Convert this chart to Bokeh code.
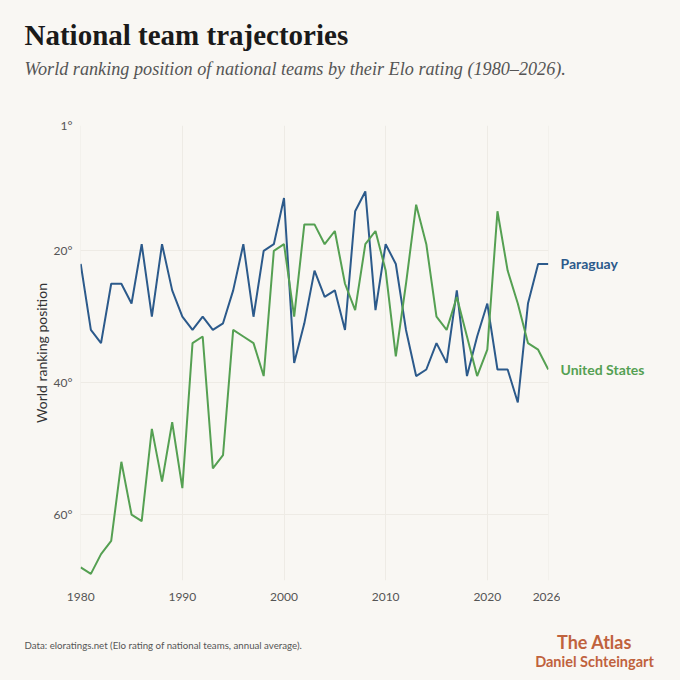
from bokeh.plotting import figure
from bokeh.models import Range1d, FixedTicker
from bokeh.layouts import column, row
from bokeh.core.properties import value
from bokeh.embed import file_html
from bokeh.resources import INLINE

years = list(range(1980, 2027))
paraguay = [22, 32, 34, 25, 25, 28, 19, 30, 19, 26,
            30, 32, 30, 32, 31, 26, 19, 30, 20, 19,
            12, 37, 31, 23, 27, 26, 32, 14, 11, 29,
            19, 22, 32, 39, 38, 34, 37, 26, 39, 33,
            28, 38, 38, 43, 28, 22, 22]
united_states = [68, 69, 66, 64, 52, 60, 61, 47, 55, 46,
                 56, 34, 33, 53, 51, 32, 33, 34, 39, 20,
                 19, 30, 16, 16, 19, 17, 25, 29, 19, 17,
                 23, 36, 25, 13, 19, 30, 32, 27, 33, 39,
                 35, 14, 23, 28, 34, 35, 38]
series_names = ["Paraguay", "United States"]
x_ticks = [1980, 1990, 2000, 2010, 2020, 2026]
y_ticks = [1, 20, 40, 60]
y_tick_labels = {1: "1°", 20: "20°", 40: "40°", 60: "60°"}

BG = "#f9f7f3"
BLUE = "#2c5a8b"
GREEN = "#55a052"
ACCENT = "#c0623d"
SANS = "Lato"
SERIF = "Liberation Serif"

W = 680
HEADER_H = 110
MAIN_H = 505
FOOTER_H = W - HEADER_H - MAIN_H
MAIN_W = 560
LABEL_W = W - MAIN_W
TOP_PAD, BOTTOM_PAD = 15, 35

def blank(width, height, xr, yr, **kw):
    f = figure(width=width, height=height, output_backend="svg", toolbar_location=None,
               x_range=xr, y_range=yr, x_axis_location=None, y_axis_location=None,
               background_fill_color=BG, border_fill_color=BG, min_border=0,
               styles={"background-color": BG}, **kw)
    f.outline_line_color = None
    f.grid.visible = False
    return f

# ---- header ----
header = blank(W, HEADER_H, Range1d(0, W), Range1d(HEADER_H, 0))
header.text(x=[24], y=[34], text=["National team trajectories"],
            text_font=value(SERIF), text_font_style="bold", text_font_size="29px",
            text_color="#1a1a1a", text_baseline="middle")
header.text(x=[24], y=[68],
            text=["World ranking position of national teams by their Elo rating (1980\u20132026)."],
            text_font=value(SERIF), text_font_style="italic", text_font_size="18.2px",
            text_color="#555555", text_baseline="middle")

# ---- main chart ----
yr = Range1d(70, 1)
p = figure(width=MAIN_W, height=MAIN_H, output_backend="svg", toolbar_location=None,
           x_range=Range1d(1979.98, 2026.02), y_range=yr,
           background_fill_color=BG, border_fill_color=BG,
           min_border_left=80, min_border_right=MAIN_W - 548,
           min_border_top=TOP_PAD, min_border_bottom=BOTTOM_PAD,
           styles={"background-color": BG})
p.outline_line_color = None
p.line(years, paraguay, line_color=BLUE, line_width=2)
p.line(years, united_states, line_color=GREEN, line_width=2)

for ax in (p.xaxis[0], p.yaxis[0]):
    ax.axis_line_color = None
    ax.major_tick_line_color = None
    ax.minor_tick_line_color = None
    ax.major_tick_out = 0
    ax.major_tick_in = 0
    ax.minor_tick_out = 0
    ax.minor_tick_in = 0
    ax.major_label_text_font = SANS
    ax.major_label_text_font_size = "12px"
    ax.major_label_text_color = "#555555"

xa = p.xaxis[0]
xa.ticker = FixedTicker(ticks=x_ticks)
xa.major_label_standoff = 12

ya = p.yaxis[0]
ya.ticker = FixedTicker(ticks=y_ticks)
ya.major_label_overrides = y_tick_labels
ya.major_label_standoff = 8
ya.axis_label = "World ranking position"
ya.axis_label_text_font = SANS
ya.axis_label_text_font_style = "normal"
ya.axis_label_text_font_size = "14px"
ya.axis_label_text_color = "#333333"
ya.axis_label_standoff = 1

p.xgrid.grid_line_color = "#eeebe5"
p.ygrid.grid_line_color = "#eeebe5"

# ---- series labels (share the chart's y scale) ----
lab = blank(LABEL_W, MAIN_H, Range1d(0, LABEL_W), yr,
            min_border_top=TOP_PAD, min_border_bottom=BOTTOM_PAD)
lab.text(x=[0], y=[paraguay[-1]], text=[series_names[0]], text_baseline="middle",
         text_font=value(SANS), text_font_style="bold", text_font_size="14px", text_color=BLUE)
lab.text(x=[0], y=[united_states[-1]], text=[series_names[1]], text_baseline="middle",
         text_font=value(SANS), text_font_style="bold", text_font_size="14px", text_color=GREEN)

# ---- footer ----
top = HEADER_H + MAIN_H
footer = blank(W, FOOTER_H, Range1d(0, W), Range1d(W, top))
footer.text(x=[24], y=[644],
            text=["Data: eloratings.net (Elo rating of national teams, annual average)."],
            text_font=value(SANS), text_font_size="9.7px", text_color="#555555",
            text_baseline="middle")
footer.text(x=[594], y=[641], text=["The Atlas"], text_font=value(SANS),
            text_font_style="bold", text_font_size="18px", text_color=ACCENT,
            text_align="center", text_baseline="middle")
footer.text(x=[594], y=[661], text=["Daniel Schteingart"], text_font=value(SANS),
            text_font_style="bold", text_font_size="14.5px", text_color=ACCENT,
            text_align="center", text_baseline="middle")

layout = column(header, row(p, lab, spacing=0, styles={"background-color": BG}),
                footer, spacing=0, styles={"background-color": BG})
open("out.html", "w").write(file_html(layout, INLINE))
